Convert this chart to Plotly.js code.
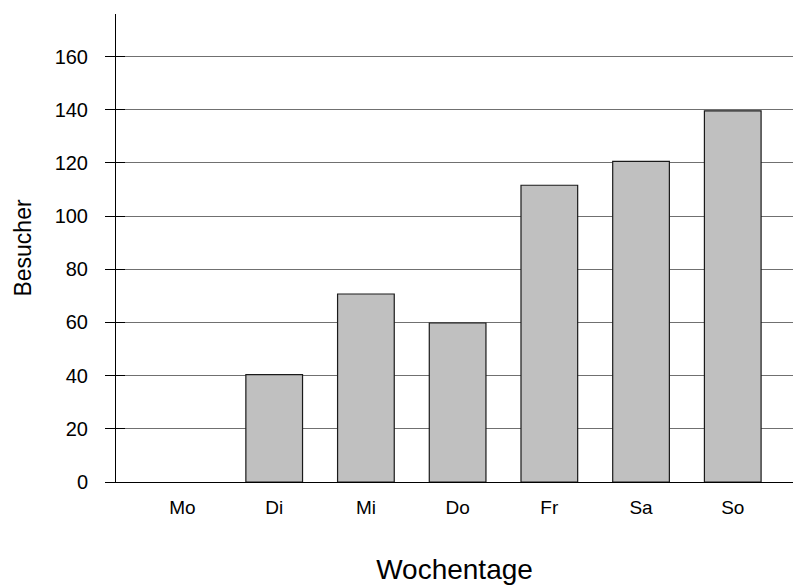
<!DOCTYPE html>
<html>
<head>
<meta charset="utf-8">
<script src="https://cdn.plot.ly/plotly-3.0.1.min.js"></script>
<style>html,body{margin:0;padding:0;background:#fff;}#chart{width:793px;height:588px;}</style>
</head>
<body>
<div id="chart"></div>
<script>
var days = ["Mo", "Di", "Mi", "Do", "Fr", "Sa", "So"];
var visitors = [0, 40.4, 70.7, 59.8, 111.6, 120.6, 139.6];
var yTicks = [0, 20, 40, 60, 80, 100, 120, 140, 160];

var FONT = "Liberation Sans, Arial, sans-serif";

var trace = {
  type: "bar",
  x: days,
  y: visitors,
  width: 0.618,
  marker: {
    color: "#c0c0c0",
    line: {color: "#1a1a1a", width: visitors.map(function (v) { return v > 0 ? 1.2 : 0; })}
  },
  hoverinfo: "x+y"
};
// invisible trace to drive the inner tick marks on the overlay axis
var tickTrace = {
  type: "scatter", x: days, y: visitors, yaxis: "y2", mode: "markers",
  marker: {opacity: 0}, hoverinfo: "skip", showlegend: false
};

var layout = {
  width: 793, height: 588,
  margin: {l: 116, r: 0, t: 14, b: 106, pad: 0},
  paper_bgcolor: "#fff", plot_bgcolor: "#fff",
  showlegend: false,
  font: {family: FONT, color: "#000"},
  xaxis: {
    type: "category",
    range: [-0.725, 6.657],
    showgrid: false,
    showline: true, linecolor: "#000", linewidth: 1,
    ticks: "", tickfont: {size: 19, family: FONT, color: "#000"},
    ticklabelstandoff: 8,
    zeroline: false,
    title: {text: "Wochentage", font: {size: 28, family: FONT, color: "#000"}, standoff: 42}
  },
  yaxis: {
    range: [0, 176],
    tickvals: yTicks,
    ticktext: yTicks.map(String),
    showgrid: true, gridcolor: "#707070", gridwidth: 1,
    showline: true, linecolor: "#000", linewidth: 1,
    ticks: "outside", ticklen: 10, tickcolor: "#000", tickwidth: 1,
    ticklabelstandoff: 13,
    tickfont: {size: 20, family: FONT, color: "#000"},
    zeroline: false,
    title: {text: "Besucher", font: {size: 23, family: FONT, color: "#000"}, standoff: 16}
  },
  yaxis2: {
    overlaying: "y", side: "left", range: [0, 176],
    tickvals: yTicks, showticklabels: false,
    ticks: "inside", ticklen: 9, tickcolor: "#000", tickwidth: 1,
    showgrid: false, showline: false, zeroline: false
  }
};

Plotly.newPlot("chart", [trace, tickTrace], layout, {displayModeBar: false, staticPlot: true});
</script>
</body>
</html>
